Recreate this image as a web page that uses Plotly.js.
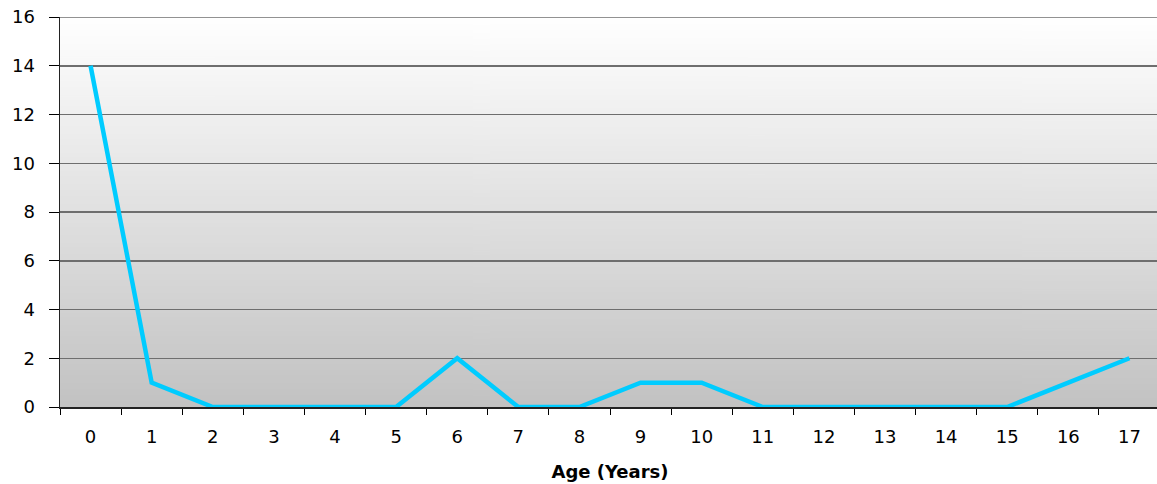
<!DOCTYPE html>
<html>
<head>
<meta charset="utf-8">
<script src="https://cdn.plot.ly/plotly-3.0.1.min.js"></script>
<style>
html,body{margin:0;padding:0;overflow:hidden;background:#fff;}
#chart{width:1160px;height:484px;}
</style>
</head>
<body>
<div id="chart"></div>
<script>
const ages = ["0","1","2","3","4","5","6","7","8","9","10","11","12","13","14","15","16","17"];
const counts = [14,1,0,0,0,0,2,0,0,1,1,0,0,0,0,0,1,2];
const yTicks = [0,2,4,6,8,10,12,14,16];

// vertical gradient background image for plot area
const cv = document.createElement('canvas');
cv.width = 4; cv.height = 400;
const cx = cv.getContext('2d');
const g = cx.createLinearGradient(0,0,0,400);
g.addColorStop(0,'#ffffff');
g.addColorStop(1,'#c2c2c2');
cx.fillStyle = g; cx.fillRect(0,0,4,400);
const bg = cv.toDataURL();

const trace = {
  x: ages, y: counts, type: 'scatter', mode: 'lines',
  line: {color: '#00ccff', width: 4.5},
  hoverinfo: 'x+y'
};

const layout = {
  width: 1160, height: 484,
  margin: {l: 60, r: 0, t: 17, b: 77},
  paper_bgcolor: '#ffffff',
  plot_bgcolor: 'rgba(0,0,0,0)',
  showlegend: false,
  font: {family: 'DejaVu Sans, Liberation Sans, Arial, sans-serif', color: '#000', size: 18},
  images: [{source: bg, xref: 'paper', yref: 'paper', x: 0, y: 1, sizex: 1, sizey: 1,
            sizing: 'stretch', layer: 'below', xanchor: 'left', yanchor: 'top'}],
  shapes: [{type: 'line', xref: 'paper', yref: 'y', x0: 0, x1: 1, y0: 16, y1: 16,
            line: {color: '#6e6e6e', width: 1.5}, layer: 'above'}],
  xaxis: {
    type: 'category', categoryorder: 'array', categoryarray: ages,
    range: [-0.5, 17.5],
    tickson: 'boundaries', ticks: 'outside', ticklen: 6, tickcolor: '#000', tickwidth: 1,
    ticklabelstandoff: 13,
    showgrid: false, zeroline: false,
    showline: true, linecolor: '#222', linewidth: 1.5,
    tickfont: {size: 18},
    title: {text: '<b>Age (Years)</b>', font: {size: 18}, standoff: 19}
  },
  yaxis: {
    range: [0, 16], tickvals: yTicks, ticktext: yTicks.map(String),
    ticks: 'outside', ticklen: 10, tickcolor: '#000', tickwidth: 1,
    ticklabelstandoff: 10,
    showgrid: true, gridcolor: '#6e6e6e', gridwidth: 1.5,
    zeroline: false, showline: true, linecolor: '#222', linewidth: 1.5,
    tickfont: {size: 18}
  }
};

Plotly.newPlot('chart', [trace], layout, {displayModeBar: false, staticPlot: true});
</script>
</body>
</html>
